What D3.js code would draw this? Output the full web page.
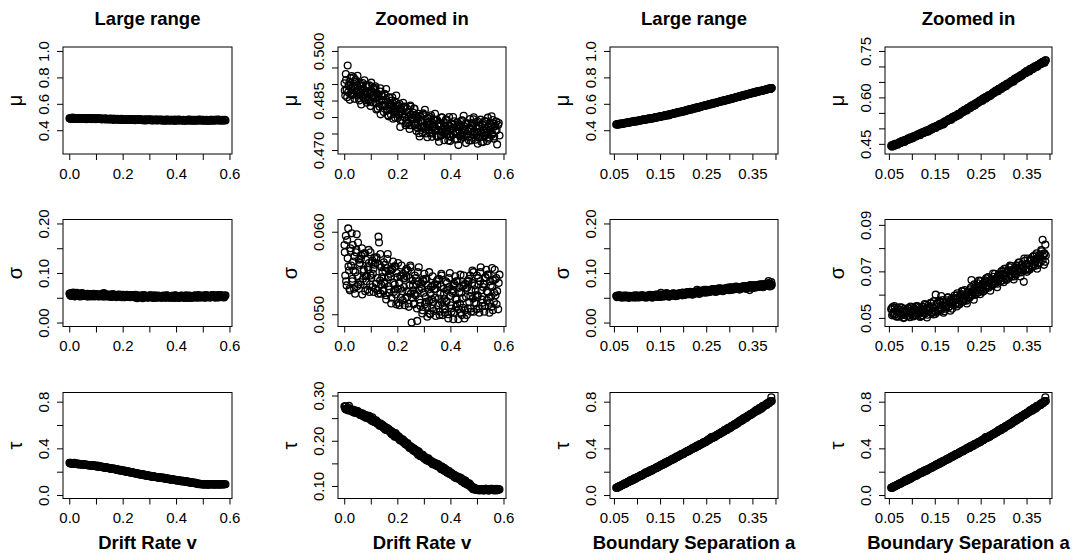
<!DOCTYPE html>
<html>
<head>
<meta charset="utf-8">
<script src="https://cdn.jsdelivr.net/npm/d3@7"></script>
<style>
  body { margin: 0; background: #fff; }
  svg { display: block; }
</style>
</head>
<body>
<svg id="chart" width="1079" height="554"></svg>
<script>
// ---- data: drift rate simulations (columns 1-2) ----
var driftRate = [
  0.001, 0.004, 0.006, 0.009, 0.013, 0.015, 0.018, 0.021, 0.024, 0.026,
  0.030, 0.032, 0.035, 0.039, 0.041, 0.044, 0.047, 0.050, 0.053, 0.055,
  0.059, 0.062, 0.064, 0.067, 0.071, 0.073, 0.076, 0.079, 0.082, 0.085,
  0.088, 0.091, 0.093, 0.097, 0.099, 0.102, 0.106, 0.108, 0.111, 0.114,
  0.117, 0.120, 0.122, 0.126, 0.129, 0.131, 0.135, 0.137, 0.140, 0.143,
  0.146, 0.149, 0.152, 0.155, 0.158, 0.160, 0.164, 0.167, 0.169, 0.172,
  0.176, 0.178, 0.181, 0.184, 0.187, 0.190, 0.193, 0.196, 0.198, 0.202,
  0.205, 0.207, 0.211, 0.213, 0.216, 0.219, 0.222, 0.225, 0.228, 0.231,
  0.234, 0.237, 0.240, 0.242, 0.246, 0.249, 0.251, 0.254, 0.258, 0.260,
  0.263, 0.266, 0.269, 0.272, 0.275, 0.278, 0.281, 0.284, 0.287, 0.289,
  0.293, 0.295, 0.298, 0.302, 0.304, 0.307, 0.310, 0.313, 0.316, 0.319,
  0.322, 0.325, 0.327, 0.331, 0.333, 0.336, 0.340, 0.342, 0.345, 0.348,
  0.351, 0.354, 0.357, 0.360, 0.362, 0.366, 0.368, 0.371, 0.375, 0.377,
  0.380, 0.383, 0.386, 0.389, 0.392, 0.395, 0.398, 0.401, 0.404, 0.406,
  0.410, 0.412, 0.415, 0.418, 0.421, 0.424, 0.427, 0.430, 0.433, 0.436,
  0.439, 0.441, 0.445, 0.447, 0.450, 0.453, 0.456, 0.459, 0.462, 0.465,
  0.468, 0.471, 0.474, 0.477, 0.479, 0.483, 0.485, 0.488, 0.491, 0.494,
  0.497, 0.500, 0.503, 0.506, 0.509, 0.512, 0.514, 0.518, 0.520, 0.523,
  0.526, 0.529, 0.532, 0.535, 0.538, 0.541, 0.544, 0.547, 0.549, 0.553,
  0.555, 0.558, 0.561, 0.564, 0.567, 0.570, 0.573, 0.576, 0.580, 0.585,
  // second batch of runs
  0.002, 0.007, 0.011, 0.016, 0.020, 0.023, 0.028, 0.031, 0.034, 0.037,
  0.042, 0.046, 0.049, 0.052, 0.057, 0.060, 0.063, 0.068, 0.070, 0.074,
  0.078, 0.081, 0.084, 0.089, 0.092, 0.095, 0.100, 0.104, 0.107, 0.110,
  0.115, 0.118, 0.121, 0.125, 0.128, 0.133, 0.136, 0.139, 0.144, 0.148,
  0.151, 0.154, 0.157, 0.162, 0.165, 0.170, 0.174, 0.177, 0.180, 0.185,
  0.189, 0.192, 0.195, 0.200, 0.203, 0.208, 0.212, 0.215, 0.220, 0.224,
  0.227, 0.230, 0.235, 0.238, 0.243, 0.247, 0.250, 0.255, 0.259, 0.262,
  0.265, 0.270, 0.274, 0.277, 0.282, 0.286, 0.290, 0.294, 0.297, 0.300,
  0.305, 0.309, 0.312, 0.317, 0.320, 0.324, 0.329, 0.332, 0.337, 0.339,
  0.344, 0.347, 0.352, 0.356, 0.359, 0.364, 0.367, 0.372, 0.376, 0.379,
  0.384, 0.387, 0.391, 0.395, 0.399, 0.403, 0.407, 0.411, 0.414, 0.419,
  0.422, 0.426, 0.431, 0.434, 0.438, 0.443, 0.446, 0.451, 0.455, 0.458,
  0.463, 0.466, 0.470, 0.475, 0.478, 0.482, 0.487, 0.490, 0.495, 0.498,
  0.502, 0.505, 0.510, 0.513, 0.517, 0.521, 0.525, 0.528, 0.533, 0.537,
  0.540, 0.545, 0.548, 0.552, 0.557, 0.560, 0.565, 0.569, 0.574, 0.582
];
var muDrift = [
  0.4902, 0.4865, 0.4930, 0.4882, 0.4956, 0.4875, 0.4895, 0.4852, 0.4918, 0.4888,
  0.4867, 0.4893, 0.4920, 0.4855, 0.4887, 0.4907, 0.4873, 0.4925, 0.4880, 0.4857,
  0.4903, 0.4873, 0.4838, 0.4893, 0.4884, 0.4858, 0.4911, 0.4868, 0.4896, 0.4843,
  0.4858, 0.4894, 0.4851, 0.4870, 0.4833, 0.4904, 0.4876, 0.4844, 0.4867, 0.4882,
  0.4893, 0.4841, 0.4871, 0.4825, 0.4862, 0.4850, 0.4877, 0.4808, 0.4867, 0.4835,
  0.4852, 0.4815, 0.4870, 0.4832, 0.4885, 0.4825, 0.4845, 0.4802, 0.4860, 0.4838,
  0.4807, 0.4833, 0.4860, 0.4795, 0.4827, 0.4847, 0.4813, 0.4865, 0.4820, 0.4797,
  0.4835, 0.4805, 0.4770, 0.4825, 0.4816, 0.4790, 0.4843, 0.4800, 0.4828, 0.4775,
  0.4789, 0.4825, 0.4782, 0.4801, 0.4764, 0.4835, 0.4807, 0.4775, 0.4798, 0.4813,
  0.4826, 0.4774, 0.4804, 0.4758, 0.4795, 0.4783, 0.4810, 0.4741, 0.4800, 0.4768,
  0.4789, 0.4752, 0.4807, 0.4769, 0.4822, 0.4762, 0.4782, 0.4739, 0.4797, 0.4775,
  0.4752, 0.4778, 0.4805, 0.4740, 0.4772, 0.4792, 0.4758, 0.4810, 0.4765, 0.4742,
  0.4790, 0.4760, 0.4725, 0.4780, 0.4771, 0.4745, 0.4798, 0.4755, 0.4783, 0.4730,
  0.4754, 0.4790, 0.4747, 0.4766, 0.4729, 0.4800, 0.4772, 0.4740, 0.4763, 0.4778,
  0.4800, 0.4748, 0.4778, 0.4732, 0.4769, 0.4757, 0.4784, 0.4715, 0.4774, 0.4742,
  0.4771, 0.4734, 0.4789, 0.4751, 0.4804, 0.4744, 0.4764, 0.4721, 0.4779, 0.4757,
  0.4741, 0.4767, 0.4794, 0.4729, 0.4761, 0.4781, 0.4747, 0.4799, 0.4754, 0.4731,
  0.4784, 0.4754, 0.4719, 0.4774, 0.4765, 0.4739, 0.4792, 0.4749, 0.4777, 0.4724,
  0.4752, 0.4788, 0.4745, 0.4764, 0.4727, 0.4798, 0.4770, 0.4738, 0.4761, 0.4776,
  0.4802, 0.4750, 0.4780, 0.4734, 0.4771, 0.4759, 0.4786, 0.4717, 0.4776, 0.4744,
  0.4880, 0.4912, 0.4860, 0.4895, 0.4906, 0.4868, 0.4924, 0.4881, 0.4895, 0.4869,
  0.4913, 0.4879, 0.4897, 0.4865, 0.4850, 0.4896, 0.4880, 0.4864, 0.4903, 0.4869,
  0.4874, 0.4851, 0.4897, 0.4874, 0.4851, 0.4896, 0.4846, 0.4879, 0.4865, 0.4887,
  0.4856, 0.4888, 0.4823, 0.4858, 0.4869, 0.4831, 0.4887, 0.4849, 0.4863, 0.4837,
  0.4868, 0.4834, 0.4852, 0.4820, 0.4805, 0.4858, 0.4842, 0.4826, 0.4850, 0.4816,
  0.4821, 0.4798, 0.4844, 0.4833, 0.4810, 0.4840, 0.4790, 0.4823, 0.4809, 0.4831,
  0.4800, 0.4832, 0.4780, 0.4815, 0.4813, 0.4775, 0.4831, 0.4793, 0.4807, 0.4781,
  0.4825, 0.4780, 0.4798, 0.4766, 0.4751, 0.4804, 0.4788, 0.4772, 0.4811, 0.4768,
  0.4773, 0.4750, 0.4796, 0.4785, 0.4762, 0.4800, 0.4750, 0.4783, 0.4769, 0.4791,
  0.4760, 0.4792, 0.4740, 0.4775, 0.4781, 0.4743, 0.4799, 0.4761, 0.4775, 0.4749,
  0.4793, 0.4759, 0.4774, 0.4742, 0.4727, 0.4780, 0.4764, 0.4748, 0.4787, 0.4753,
  0.4756, 0.4733, 0.4779, 0.4768, 0.4745, 0.4790, 0.4740, 0.4773, 0.4759, 0.4781,
  0.4749, 0.4781, 0.4729, 0.4764, 0.4775, 0.4737, 0.4793, 0.4755, 0.4769, 0.4743,
  0.4787, 0.4753, 0.4771, 0.4739, 0.4724, 0.4777, 0.4761, 0.4745, 0.4786, 0.4752,
  0.4757, 0.4734, 0.4780, 0.4769, 0.4746, 0.4791, 0.4741, 0.4774, 0.4760, 0.4782
];
var sigmaDrift = [
  0.0584, 0.0547, 0.0595, 0.0535, 0.0568, 0.0604, 0.0553, 0.0529, 0.0577, 0.0559,
  0.0540, 0.0584, 0.0553, 0.0570, 0.0525, 0.0575, 0.0597, 0.0546, 0.0536, 0.0566,
  0.0562, 0.0536, 0.0571, 0.0580, 0.0543, 0.0552, 0.0574, 0.0528, 0.0566, 0.0547,
  0.0530, 0.0554, 0.0562, 0.0536, 0.0575, 0.0544, 0.0565, 0.0549, 0.0527, 0.0569,
  0.0562, 0.0537, 0.0569, 0.0529, 0.0594, 0.0587, 0.0541, 0.0525, 0.0557, 0.0545,
  0.0529, 0.0563, 0.0539, 0.0552, 0.0518, 0.0556, 0.0573, 0.0534, 0.0526, 0.0549,
  0.0546, 0.0520, 0.0555, 0.0564, 0.0527, 0.0536, 0.0558, 0.0512, 0.0550, 0.0531,
  0.0514, 0.0538, 0.0546, 0.0520, 0.0559, 0.0528, 0.0549, 0.0533, 0.0511, 0.0553,
  0.0546, 0.0521, 0.0553, 0.0513, 0.0535, 0.0559, 0.0525, 0.0490, 0.0541, 0.0529,
  0.0513, 0.0547, 0.0523, 0.0536, 0.0492, 0.0540, 0.0557, 0.0518, 0.0510, 0.0533,
  0.0531, 0.0505, 0.0540, 0.0549, 0.0512, 0.0521, 0.0543, 0.0497, 0.0535, 0.0516,
  0.0501, 0.0525, 0.0533, 0.0507, 0.0546, 0.0515, 0.0536, 0.0520, 0.0498, 0.0540,
  0.0536, 0.0511, 0.0543, 0.0503, 0.0525, 0.0549, 0.0515, 0.0499, 0.0531, 0.0519,
  0.0506, 0.0540, 0.0516, 0.0529, 0.0495, 0.0533, 0.0550, 0.0511, 0.0503, 0.0526,
  0.0528, 0.0502, 0.0537, 0.0546, 0.0509, 0.0518, 0.0540, 0.0494, 0.0532, 0.0513,
  0.0502, 0.0526, 0.0534, 0.0508, 0.0547, 0.0495, 0.0537, 0.0521, 0.0499, 0.0541,
  0.0540, 0.0515, 0.0547, 0.0507, 0.0529, 0.0553, 0.0519, 0.0503, 0.0535, 0.0523,
  0.0513, 0.0547, 0.0523, 0.0536, 0.0502, 0.0540, 0.0557, 0.0518, 0.0510, 0.0533,
  0.0536, 0.0510, 0.0545, 0.0554, 0.0517, 0.0526, 0.0548, 0.0502, 0.0540, 0.0521,
  0.0509, 0.0533, 0.0541, 0.0515, 0.0554, 0.0523, 0.0544, 0.0528, 0.0506, 0.0548,
  0.0575, 0.0540, 0.0590, 0.0558, 0.0531, 0.0580, 0.0598, 0.0543, 0.0564, 0.0531,
  0.0551, 0.0578, 0.0534, 0.0587, 0.0560, 0.0539, 0.0567, 0.0524, 0.0573, 0.0554,
  0.0574, 0.0546, 0.0540, 0.0557, 0.0578, 0.0527, 0.0547, 0.0563, 0.0533, 0.0555,
  0.0560, 0.0531, 0.0567, 0.0544, 0.0525, 0.0560, 0.0573, 0.0536, 0.0551, 0.0528,
  0.0537, 0.0560, 0.0523, 0.0567, 0.0545, 0.0530, 0.0553, 0.0513, 0.0554, 0.0538,
  0.0558, 0.0530, 0.0524, 0.0545, 0.0562, 0.0511, 0.0531, 0.0547, 0.0517, 0.0543,
  0.0544, 0.0519, 0.0555, 0.0528, 0.0509, 0.0544, 0.0557, 0.0520, 0.0535, 0.0512,
  0.0525, 0.0544, 0.0507, 0.0551, 0.0529, 0.0514, 0.0537, 0.0501, 0.0542, 0.0526,
  0.0543, 0.0515, 0.0509, 0.0530, 0.0551, 0.0500, 0.0518, 0.0534, 0.0504, 0.0530,
  0.0531, 0.0506, 0.0542, 0.0519, 0.0499, 0.0534, 0.0547, 0.0510, 0.0525, 0.0502,
  0.0515, 0.0538, 0.0500, 0.0544, 0.0522, 0.0507, 0.0530, 0.0494, 0.0535, 0.0519,
  0.0540, 0.0512, 0.0506, 0.0527, 0.0548, 0.0499, 0.0519, 0.0535, 0.0505, 0.0531,
  0.0532, 0.0507, 0.0543, 0.0522, 0.0503, 0.0538, 0.0551, 0.0514, 0.0529, 0.0506,
  0.0521, 0.0544, 0.0507, 0.0551, 0.0529, 0.0514, 0.0537, 0.0503, 0.0544, 0.0528,
  0.0548, 0.0520, 0.0514, 0.0535, 0.0556, 0.0505, 0.0526, 0.0542, 0.0512, 0.0538
];
var tauDrift = [
  0.276, 0.270, 0.276, 0.271, 0.272, 0.267, 0.277, 0.269, 0.267, 0.269,
  0.265, 0.269, 0.265, 0.262, 0.266, 0.264, 0.261, 0.265, 0.261, 0.262,
  0.261, 0.257, 0.259, 0.257, 0.254, 0.258, 0.256, 0.257, 0.254, 0.251,
  0.255, 0.249, 0.255, 0.249, 0.251, 0.245, 0.252, 0.247, 0.244, 0.245,
  0.241, 0.245, 0.241, 0.237, 0.239, 0.238, 0.234, 0.238, 0.233, 0.233,
  0.233, 0.229, 0.231, 0.228, 0.224, 0.228, 0.225, 0.226, 0.223, 0.220,
  0.222, 0.216, 0.220, 0.214, 0.215, 0.209, 0.217, 0.210, 0.208, 0.208,
  0.205, 0.209, 0.204, 0.200, 0.203, 0.201, 0.197, 0.200, 0.195, 0.195,
  0.194, 0.190, 0.192, 0.188, 0.184, 0.188, 0.184, 0.186, 0.182, 0.179,
  0.183, 0.177, 0.180, 0.174, 0.175, 0.169, 0.176, 0.169, 0.166, 0.167,
  0.165, 0.169, 0.164, 0.160, 0.163, 0.161, 0.157, 0.160, 0.155, 0.156,
  0.157, 0.153, 0.155, 0.152, 0.148, 0.152, 0.149, 0.150, 0.147, 0.145,
  0.149, 0.143, 0.146, 0.141, 0.142, 0.137, 0.143, 0.137, 0.134, 0.136,
  0.133, 0.137, 0.133, 0.129, 0.131, 0.130, 0.126, 0.129, 0.125, 0.126,
  0.126, 0.122, 0.124, 0.121, 0.117, 0.121, 0.118, 0.119, 0.116, 0.114,
  0.118, 0.112, 0.115, 0.110, 0.111, 0.106, 0.112, 0.106, 0.103, 0.105,
  0.102, 0.106, 0.101, 0.097, 0.099, 0.097, 0.093, 0.096, 0.092, 0.093,
  0.094, 0.091, 0.093, 0.092, 0.090, 0.093, 0.091, 0.092, 0.091, 0.090,
  0.093, 0.090, 0.092, 0.094, 0.091, 0.092, 0.090, 0.093, 0.092, 0.091,
  0.091, 0.094, 0.092, 0.090, 0.093, 0.092, 0.094, 0.091, 0.093, 0.092,
  0.275, 0.269, 0.271, 0.273, 0.268, 0.270, 0.265, 0.268, 0.263, 0.268,
  0.263, 0.266, 0.262, 0.265, 0.261, 0.257, 0.261, 0.257, 0.260, 0.254,
  0.257, 0.251, 0.254, 0.255, 0.250, 0.252, 0.247, 0.248, 0.243, 0.247,
  0.241, 0.244, 0.240, 0.242, 0.238, 0.233, 0.237, 0.233, 0.235, 0.229,
  0.232, 0.225, 0.227, 0.228, 0.223, 0.224, 0.218, 0.220, 0.214, 0.217,
  0.212, 0.214, 0.210, 0.212, 0.208, 0.202, 0.205, 0.201, 0.203, 0.196,
  0.199, 0.192, 0.193, 0.195, 0.188, 0.189, 0.184, 0.185, 0.179, 0.183,
  0.177, 0.179, 0.174, 0.177, 0.172, 0.167, 0.170, 0.166, 0.168, 0.162,
  0.164, 0.158, 0.160, 0.161, 0.156, 0.157, 0.152, 0.153, 0.148, 0.152,
  0.146, 0.149, 0.144, 0.147, 0.143, 0.138, 0.142, 0.137, 0.140, 0.134,
  0.136, 0.130, 0.131, 0.133, 0.127, 0.129, 0.124, 0.125, 0.120, 0.123,
  0.119, 0.121, 0.116, 0.119, 0.115, 0.110, 0.114, 0.110, 0.112, 0.106,
  0.107, 0.103, 0.103, 0.103, 0.099, 0.099, 0.095, 0.096, 0.092, 0.094,
  0.091, 0.093, 0.092, 0.093, 0.092, 0.091, 0.093, 0.092, 0.094, 0.091,
  0.093, 0.090, 0.092, 0.094, 0.091, 0.093, 0.091, 0.092, 0.090, 0.093
];

// ---- data: boundary separation simulations (columns 3-4) ----
var boundarySep = [
  0.055, 0.057, 0.058, 0.060, 0.062, 0.063, 0.065, 0.067, 0.069, 0.070,
  0.072, 0.074, 0.075, 0.077, 0.079, 0.080, 0.082, 0.084, 0.085, 0.087,
  0.089, 0.091, 0.092, 0.094, 0.096, 0.097, 0.099, 0.101, 0.102, 0.104,
  0.106, 0.108, 0.109, 0.111, 0.113, 0.114, 0.116, 0.118, 0.119, 0.121,
  0.123, 0.125, 0.126, 0.128, 0.130, 0.131, 0.133, 0.135, 0.136, 0.138,
  0.140, 0.142, 0.143, 0.145, 0.147, 0.148, 0.150, 0.152, 0.153, 0.155,
  0.157, 0.159, 0.160, 0.162, 0.164, 0.165, 0.167, 0.169, 0.170, 0.172,
  0.174, 0.176, 0.177, 0.179, 0.181, 0.182, 0.184, 0.186, 0.187, 0.189,
  0.191, 0.193, 0.194, 0.196, 0.198, 0.199, 0.201, 0.203, 0.204, 0.206,
  0.208, 0.210, 0.211, 0.213, 0.215, 0.216, 0.218, 0.220, 0.221, 0.223,
  0.225, 0.227, 0.228, 0.230, 0.232, 0.233, 0.235, 0.237, 0.238, 0.240,
  0.242, 0.244, 0.245, 0.247, 0.249, 0.250, 0.252, 0.254, 0.255, 0.257,
  0.259, 0.261, 0.262, 0.264, 0.266, 0.267, 0.269, 0.271, 0.272, 0.274,
  0.276, 0.278, 0.279, 0.281, 0.283, 0.284, 0.286, 0.288, 0.289, 0.291,
  0.293, 0.295, 0.296, 0.298, 0.300, 0.301, 0.303, 0.305, 0.306, 0.308,
  0.310, 0.312, 0.313, 0.315, 0.317, 0.318, 0.320, 0.322, 0.323, 0.325,
  0.327, 0.329, 0.330, 0.332, 0.334, 0.335, 0.337, 0.339, 0.340, 0.342,
  0.344, 0.346, 0.347, 0.349, 0.351, 0.352, 0.354, 0.356, 0.357, 0.359,
  0.361, 0.363, 0.364, 0.366, 0.368, 0.369, 0.371, 0.373, 0.374, 0.376,
  0.378, 0.380, 0.381, 0.383, 0.385, 0.386, 0.388, 0.389, 0.391, 0.392,
  // second batch of runs
  0.056, 0.059, 0.063, 0.066, 0.070, 0.073, 0.076, 0.080, 0.083, 0.086,
  0.090, 0.093, 0.097, 0.100, 0.103, 0.107, 0.110, 0.113, 0.117, 0.120,
  0.124, 0.127, 0.130, 0.134, 0.137, 0.141, 0.144, 0.147, 0.151, 0.154,
  0.158, 0.161, 0.164, 0.168, 0.171, 0.175, 0.178, 0.181, 0.185, 0.188,
  0.192, 0.195, 0.198, 0.202, 0.205, 0.209, 0.212, 0.215, 0.219, 0.222,
  0.226, 0.229, 0.232, 0.236, 0.239, 0.243, 0.246, 0.249, 0.253, 0.256,
  0.260, 0.263, 0.266, 0.270, 0.273, 0.277, 0.280, 0.283, 0.287, 0.290,
  0.294, 0.297, 0.300, 0.304, 0.307, 0.311, 0.314, 0.317, 0.321, 0.324,
  0.328, 0.331, 0.334, 0.338, 0.341, 0.345, 0.348, 0.351, 0.355, 0.358,
  0.362, 0.365, 0.368, 0.372, 0.375, 0.379, 0.382, 0.385, 0.389, 0.391
];
var muBound = [
  0.443, 0.441, 0.446, 0.445, 0.445, 0.450, 0.446, 0.450, 0.447, 0.451,
  0.452, 0.456, 0.453, 0.457, 0.460, 0.456, 0.458, 0.456, 0.462, 0.463,
  0.464, 0.462, 0.467, 0.466, 0.466, 0.471, 0.467, 0.471, 0.468, 0.473,
  0.473, 0.477, 0.474, 0.478, 0.481, 0.478, 0.480, 0.478, 0.484, 0.485,
  0.486, 0.484, 0.489, 0.488, 0.488, 0.493, 0.489, 0.493, 0.490, 0.495,
  0.495, 0.499, 0.496, 0.500, 0.504, 0.501, 0.503, 0.501, 0.507, 0.508,
  0.509, 0.507, 0.512, 0.511, 0.512, 0.516, 0.512, 0.516, 0.514, 0.519,
  0.521, 0.525, 0.523, 0.527, 0.530, 0.527, 0.529, 0.528, 0.535, 0.536,
  0.537, 0.535, 0.540, 0.540, 0.540, 0.545, 0.542, 0.546, 0.544, 0.549,
  0.550, 0.554, 0.552, 0.556, 0.560, 0.557, 0.559, 0.558, 0.565, 0.565,
  0.567, 0.565, 0.571, 0.570, 0.571, 0.576, 0.573, 0.577, 0.575, 0.580,
  0.581, 0.585, 0.583, 0.588, 0.591, 0.588, 0.591, 0.589, 0.596, 0.597,
  0.598, 0.596, 0.602, 0.601, 0.602, 0.607, 0.604, 0.608, 0.606, 0.611,
  0.612, 0.616, 0.614, 0.619, 0.622, 0.619, 0.622, 0.620, 0.627, 0.628,
  0.629, 0.627, 0.633, 0.632, 0.633, 0.638, 0.635, 0.639, 0.637, 0.642,
  0.643, 0.647, 0.645, 0.650, 0.653, 0.650, 0.653, 0.651, 0.658, 0.659,
  0.661, 0.660, 0.665, 0.665, 0.665, 0.670, 0.668, 0.672, 0.670, 0.675,
  0.676, 0.680, 0.678, 0.683, 0.686, 0.683, 0.686, 0.684, 0.691, 0.692,
  0.693, 0.691, 0.696, 0.696, 0.696, 0.701, 0.698, 0.702, 0.700, 0.705,
  0.706, 0.710, 0.708, 0.712, 0.715, 0.713, 0.715, 0.712, 0.719, 0.720,
  0.445, 0.443, 0.445, 0.450, 0.451, 0.455, 0.453, 0.459, 0.458, 0.463,
  0.463, 0.468, 0.469, 0.468, 0.474, 0.475, 0.476, 0.480, 0.479, 0.485,
  0.488, 0.487, 0.488, 0.493, 0.494, 0.499, 0.497, 0.502, 0.503, 0.508,
  0.509, 0.514, 0.515, 0.516, 0.522, 0.524, 0.525, 0.529, 0.530, 0.536,
  0.539, 0.539, 0.540, 0.547, 0.548, 0.554, 0.553, 0.559, 0.560, 0.566,
  0.566, 0.572, 0.574, 0.574, 0.581, 0.583, 0.584, 0.589, 0.590, 0.596,
  0.600, 0.600, 0.602, 0.608, 0.610, 0.616, 0.615, 0.620, 0.622, 0.628,
  0.628, 0.634, 0.636, 0.637, 0.644, 0.645, 0.647, 0.652, 0.653, 0.660,
  0.663, 0.663, 0.665, 0.672, 0.674, 0.679, 0.678, 0.684, 0.685, 0.691,
  0.691, 0.697, 0.698, 0.699, 0.705, 0.707, 0.708, 0.713, 0.713, 0.719
];
var sigmaBound = [
  0.0537, 0.0511, 0.0547, 0.0521, 0.0551, 0.0515, 0.0531, 0.0505, 0.0541, 0.0525,
  0.0505, 0.0535, 0.0519, 0.0545, 0.0513, 0.0529, 0.0499, 0.0539, 0.0523, 0.0531,
  0.0527, 0.0541, 0.0509, 0.0531, 0.0503, 0.0549, 0.0515, 0.0525, 0.0511, 0.0542,
  0.0536, 0.0510, 0.0546, 0.0520, 0.0550, 0.0514, 0.0530, 0.0504, 0.0540, 0.0524,
  0.0510, 0.0547, 0.0527, 0.0560, 0.0520, 0.0540, 0.0502, 0.0552, 0.0532, 0.0542,
  0.0545, 0.0562, 0.0522, 0.0550, 0.0515, 0.0572, 0.0530, 0.0600, 0.0525, 0.0564,
  0.0562, 0.0530, 0.0575, 0.0542, 0.0594, 0.0535, 0.0555, 0.0522, 0.0568, 0.0547,
  0.0539, 0.0576, 0.0556, 0.0589, 0.0549, 0.0569, 0.0531, 0.0581, 0.0561, 0.0571,
  0.0579, 0.0596, 0.0556, 0.0584, 0.0549, 0.0606, 0.0564, 0.0576, 0.0559, 0.0598,
  0.0602, 0.0570, 0.0615, 0.0582, 0.0620, 0.0575, 0.0595, 0.0562, 0.0608, 0.0587,
  0.0586, 0.0623, 0.0603, 0.0663, 0.0596, 0.0616, 0.0578, 0.0628, 0.0608, 0.0618,
  0.0632, 0.0649, 0.0609, 0.0637, 0.0602, 0.0659, 0.0617, 0.0629, 0.0612, 0.0651,
  0.0657, 0.0625, 0.0670, 0.0637, 0.0675, 0.0630, 0.0650, 0.0617, 0.0663, 0.0642,
  0.0640, 0.0677, 0.0657, 0.0690, 0.0650, 0.0670, 0.0632, 0.0682, 0.0662, 0.0672,
  0.0683, 0.0700, 0.0660, 0.0688, 0.0653, 0.0710, 0.0668, 0.0680, 0.0663, 0.0702,
  0.0705, 0.0673, 0.0718, 0.0685, 0.0723, 0.0678, 0.0698, 0.0665, 0.0711, 0.0690,
  0.0686, 0.0723, 0.0703, 0.0736, 0.0696, 0.0716, 0.0678, 0.0728, 0.0708, 0.0718,
  0.0655, 0.0745, 0.0705, 0.0733, 0.0698, 0.0755, 0.0713, 0.0725, 0.0708, 0.0747,
  0.0751, 0.0719, 0.0764, 0.0731, 0.0769, 0.0724, 0.0744, 0.0711, 0.0757, 0.0736,
  0.0736, 0.0773, 0.0753, 0.0786, 0.0836, 0.0766, 0.0728, 0.0778, 0.0815, 0.0768,
  0.0540, 0.0516, 0.0544, 0.0507, 0.0529, 0.0546, 0.0509, 0.0524, 0.0502, 0.0533,
  0.0508, 0.0541, 0.0520, 0.0546, 0.0506, 0.0534, 0.0551, 0.0516, 0.0533, 0.0507,
  0.0547, 0.0520, 0.0556, 0.0514, 0.0542, 0.0565, 0.0522, 0.0541, 0.0517, 0.0555,
  0.0527, 0.0569, 0.0544, 0.0577, 0.0529, 0.0565, 0.0587, 0.0547, 0.0569, 0.0539,
  0.0586, 0.0560, 0.0597, 0.0558, 0.0588, 0.0615, 0.0573, 0.0595, 0.0574, 0.0614,
  0.0588, 0.0632, 0.0609, 0.0644, 0.0599, 0.0637, 0.0660, 0.0621, 0.0644, 0.0615,
  0.0662, 0.0637, 0.0675, 0.0635, 0.0665, 0.0691, 0.0649, 0.0669, 0.0647, 0.0687,
  0.0659, 0.0702, 0.0678, 0.0712, 0.0666, 0.0703, 0.0725, 0.0685, 0.0708, 0.0678,
  0.0726, 0.0699, 0.0739, 0.0695, 0.0728, 0.0755, 0.0709, 0.0732, 0.0707, 0.0750,
  0.0719, 0.0765, 0.0740, 0.0778, 0.0727, 0.0766, 0.0792, 0.0749, 0.0775, 0.0741
];
var tauBound = [
  0.062, 0.061, 0.067, 0.073, 0.071, 0.076, 0.077, 0.085, 0.086, 0.091,
  0.092, 0.101, 0.096, 0.105, 0.110, 0.107, 0.116, 0.116, 0.126, 0.121,
  0.131, 0.127, 0.137, 0.143, 0.138, 0.145, 0.143, 0.155, 0.154, 0.160,
  0.160, 0.169, 0.164, 0.173, 0.178, 0.175, 0.184, 0.184, 0.194, 0.189,
  0.199, 0.195, 0.205, 0.211, 0.206, 0.213, 0.211, 0.223, 0.222, 0.228,
  0.228, 0.237, 0.232, 0.241, 0.247, 0.243, 0.253, 0.253, 0.262, 0.258,
  0.268, 0.264, 0.274, 0.280, 0.276, 0.282, 0.280, 0.293, 0.291, 0.298,
  0.299, 0.308, 0.303, 0.312, 0.318, 0.314, 0.323, 0.324, 0.333, 0.329,
  0.339, 0.336, 0.345, 0.352, 0.347, 0.354, 0.352, 0.365, 0.363, 0.370,
  0.370, 0.380, 0.374, 0.384, 0.389, 0.386, 0.395, 0.396, 0.405, 0.401,
  0.411, 0.408, 0.417, 0.424, 0.419, 0.426, 0.424, 0.437, 0.435, 0.442,
  0.441, 0.451, 0.445, 0.455, 0.461, 0.457, 0.467, 0.468, 0.477, 0.473,
  0.483, 0.497, 0.490, 0.496, 0.492, 0.499, 0.498, 0.510, 0.509, 0.516,
  0.517, 0.527, 0.522, 0.531, 0.537, 0.534, 0.544, 0.544, 0.554, 0.550,
  0.563, 0.558, 0.570, 0.577, 0.571, 0.579, 0.576, 0.591, 0.589, 0.597,
  0.596, 0.608, 0.601, 0.612, 0.619, 0.614, 0.627, 0.627, 0.638, 0.632,
  0.646, 0.641, 0.653, 0.661, 0.655, 0.663, 0.661, 0.677, 0.675, 0.683,
  0.682, 0.694, 0.687, 0.698, 0.705, 0.700, 0.713, 0.713, 0.724, 0.718,
  0.732, 0.725, 0.738, 0.747, 0.738, 0.747, 0.744, 0.762, 0.758, 0.767,
  0.767, 0.780, 0.771, 0.785, 0.793, 0.786, 0.800, 0.799, 0.838, 0.805,
  0.064, 0.066, 0.079, 0.081, 0.090, 0.098, 0.099, 0.111, 0.114, 0.125,
  0.127, 0.137, 0.143, 0.153, 0.154, 0.164, 0.172, 0.173, 0.186, 0.189,
  0.200, 0.202, 0.213, 0.217, 0.224, 0.234, 0.235, 0.245, 0.250, 0.261,
  0.264, 0.274, 0.278, 0.291, 0.292, 0.303, 0.311, 0.312, 0.326, 0.329,
  0.340, 0.343, 0.354, 0.358, 0.366, 0.376, 0.377, 0.388, 0.393, 0.404,
  0.406, 0.417, 0.421, 0.435, 0.434, 0.445, 0.455, 0.454, 0.470, 0.473,
  0.486, 0.487, 0.501, 0.505, 0.513, 0.525, 0.525, 0.537, 0.542, 0.556,
  0.557, 0.569, 0.574, 0.589, 0.590, 0.603, 0.613, 0.614, 0.631, 0.634,
  0.648, 0.650, 0.665, 0.668, 0.678, 0.691, 0.690, 0.705, 0.710, 0.726,
  0.726, 0.741, 0.745, 0.763, 0.762, 0.776, 0.787, 0.787, 0.805, 0.805
];

// ---- axis ranges and ticks ----
var driftLim = [0, 0.586];
var boundLim = [0.055, 0.392];
var driftTicks = [0, 0.1, 0.2, 0.3, 0.4, 0.5, 0.6];
var driftLabels = [0, 0.2, 0.4, 0.6];
var boundTicks = [0.05, 0.10, 0.15, 0.20, 0.25, 0.30, 0.35, 0.40];
var boundLabels = [0.05, 0.15, 0.25, 0.35];

var titles = ["Large range", "Zoomed in", "Large range", "Zoomed in"];
var xTitles = ["Drift Rate v", "Drift Rate v", "Boundary Separation a", "Boundary Separation a"];
var yTitles = ["\u03bc", "\u03c3", "\u03c4"];

// y axis spec per row, per column
var muLarge = {lim: [0.25, 1.0], ticks: [0.4, 0.6, 0.8, 1.0], labels: [0.4, 0.6, 0.8, 1.0], fmt: ".1f"};
var muZoomV = {lim: [0.47, 0.50], ticks: [0.470, 0.475, 0.480, 0.485, 0.490, 0.495, 0.500], labels: [0.470, 0.485, 0.500], fmt: ".3f"};
var muZoomA = {lim: [0.43, 0.75], ticks: [0.45, 0.50, 0.55, 0.60, 0.65, 0.70, 0.75], labels: [0.45, 0.60, 0.75], fmt: ".2f"};
var sdLarge = {lim: [0, 0.2], ticks: [0, 0.05, 0.10, 0.15, 0.20], labels: [0, 0.10, 0.20], fmt: ".2f"};
var sdZoomV = {lim: [0.049, 0.061], ticks: [0.050, 0.055, 0.060], labels: [0.050, 0.060], fmt: ".3f"};
var sdZoomA = {lim: [0.048, 0.0906], ticks: [0.05, 0.06, 0.07, 0.08, 0.09], labels: [0.05, 0.07, 0.09], fmt: ".2f"};
var tauLarge = {lim: [0.004, 0.845], ticks: [0, 0.2, 0.4, 0.6, 0.8], labels: [0, 0.4, 0.8], fmt: ".1f"};
var tauZoomV = {lim: [0.081, 0.298], ticks: [0.10, 0.15, 0.20, 0.25, 0.30], labels: [0.10, 0.20, 0.30], fmt: ".2f"};

var ySpecs = [
  [muLarge, muZoomV, muLarge, muZoomA],
  [sdLarge, sdZoomV, sdLarge, sdZoomA],
  [tauLarge, tauZoomV, tauLarge, tauLarge]
];

// panel boxes
var colX = [[63, 232], [338, 506], [610, 778], [885, 1052]];
var rowY = [[47, 154], [219.5, 326.5], [392.5, 498.5]];

var font = "'Liberation Sans', Arial, Helvetica, sans-serif";
var svg = d3.select("#chart");

// R style: extend range by 4% each side
function pad(lim) {
  var d = (lim[1] - lim[0]) * 0.04;
  return [lim[0] - d, lim[1] + d];
}

function hasVal(arr, v) {
  return arr.some(function(a) { return Math.abs(a - v) < 1e-9; });
}

function drawPanel(r, c) {
  var x0 = colX[c][0], x1 = colX[c][1];
  var y0 = rowY[r][0], y1 = rowY[r][1];
  var isDrift = c < 2;
  var xs = isDrift ? driftRate : boundarySep;
  var ysets = isDrift ? [muDrift, sigmaDrift, tauDrift] : [muBound, sigmaBound, tauBound];
  var yv = ysets[r];
  var spec = ySpecs[r][c];

  var xScale = d3.scaleLinear().domain(pad(isDrift ? driftLim : boundLim)).range([x0, x1]);
  var yScale = d3.scaleLinear().domain(pad(spec.lim)).range([y1, y0]);

  var g = svg.append("g");
  var clipId = "clip" + r + c;
  g.append("clipPath").attr("id", clipId)
    .append("rect").attr("x", x0).attr("y", y0).attr("width", x1 - x0).attr("height", y1 - y0);

  g.append("g").attr("clip-path", "url(#" + clipId + ")")
    .selectAll("circle")
    .data(d3.range(xs.length))
    .enter().append("circle")
    .attr("cx", function(i) { return xScale(xs[i]); })
    .attr("cy", function(i) { return yScale(yv[i]); })
    .attr("r", 3.4)
    .attr("fill", "none")
    .attr("stroke", "#000")
    .attr("stroke-width", 1.3);

  g.append("rect")
    .attr("x", x0).attr("y", y0)
    .attr("width", x1 - x0).attr("height", y1 - y0)
    .attr("fill", "none").attr("stroke", "#000").attr("stroke-width", 1);

  // x axis
  var xt = isDrift ? driftTicks : boundTicks;
  var xl = isDrift ? driftLabels : boundLabels;
  var xf = d3.format(isDrift ? ".1f" : ".2f");
  var xAxis = d3.axisBottom(xScale)
    .tickValues(xt)
    .tickSize(6)
    .tickPadding(8)
    .tickFormat(function(d) { return hasVal(xl, d) ? xf(d) : ""; });
  var gx = g.append("g").attr("transform", "translate(0," + y1 + ")").call(xAxis);
  gx.select(".domain").remove();
  gx.attr("font-size", 15).attr("font-family", font);

  // y axis, labels parallel to the axis
  var yf = d3.format(spec.fmt);
  var yAxis = d3.axisLeft(yScale)
    .tickValues(spec.ticks)
    .tickSize(6)
    .tickFormat(function(d) { return hasVal(spec.labels, d) ? yf(d) : ""; });
  var gy = g.append("g").attr("transform", "translate(" + x0 + ",0)").call(yAxis);
  gy.select(".domain").remove();
  gy.attr("font-size", 15).attr("font-family", font);
  gy.selectAll(".tick text")
    .attr("x", null).attr("dy", null)
    .attr("text-anchor", "middle")
    .attr("transform", "translate(-14,0) rotate(-90)");

  // y title
  g.append("text")
    .attr("transform", "translate(" + (x0 - 41) + "," + ((y0 + y1) / 2) + ") rotate(-90)")
    .attr("text-anchor", "middle")
    .attr("font-family", font)
    .attr("font-size", 20)
    .text(yTitles[r]);

  if (r === 0) {
    g.append("text")
      .attr("x", (x0 + x1) / 2).attr("y", 24.5)
      .attr("text-anchor", "middle")
      .attr("font-family", font)
      .attr("font-weight", "bold")
      .attr("font-size", 18.5)
      .text(titles[c]);
  }
  if (r === 2) {
    g.append("text")
      .attr("x", (x0 + x1) / 2).attr("y", 549)
      .attr("text-anchor", "middle")
      .attr("font-family", font)
      .attr("font-weight", "bold")
      .attr("font-size", 18.5)
      .text(xTitles[c]);
  }
}

for (var r = 0; r < 3; r++) {
  for (var c = 0; c < 4; c++) {
    drawPanel(r, c);
  }
}
</script>
</body>
</html>
